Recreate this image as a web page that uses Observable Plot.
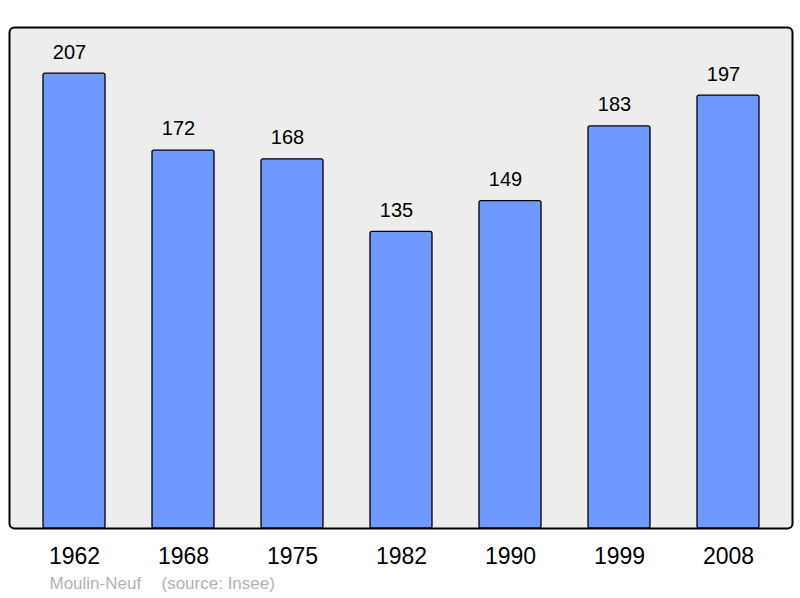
<!DOCTYPE html>
<html><head><meta charset="utf-8">
<script src="https://cdn.jsdelivr.net/npm/d3@7"></script>
<script src="https://cdn.jsdelivr.net/npm/@observablehq/plot@0.6"></script>
<style>body{margin:0;background:#fff;font-family:"Liberation Sans",Arial,sans-serif}</style>
</head><body><div id="chart"></div>
<script>
const years = ["1962","1968","1975","1982","1990","1999","2008"];
const population = [207,172,168,135,149,183,197];
const captionName = "Moulin-Neuf";
const captionSource = "(source: Insee)";
const data = years.map((y,i)=>({year:y, pop:population[i]}));

const chart = Plot.plot({
  width: 800, height: 598,
  marginLeft: 9, marginRight: 8, marginTop: 27, marginBottom: 70,
  style: {fontFamily: "Liberation Sans, Arial, sans-serif", background: "#fff"},
  x: {domain: years, insetLeft: 9.3, insetRight: 8.3, paddingInner: 0.43, paddingOuter: 0.215, label: null},
  y: {domain: [0, 228], axis: null},
  marks: [
    Plot.frame({fill: "#ededed", stroke: "#000", strokeWidth: 2, rx: 5}),
    Plot.barY(data, {x: "year", y: "pop", fill: "#7099ff", stroke: "#000", strokeWidth: 1.3, rx: 2}),
    Plot.text(data, {x: "year", y: "pop", text: d => String(d.pop), dx: -5, dy: -21.5, fontSize: 20, fill: "#000"}),
    Plot.axisX({tickSize: 0, tickPadding: 19, fontSize: 23, fill: "#000", label: null}),
    Plot.text([captionName], {frameAnchor: "bottom-left", dx: 40, dy: 60, textAnchor: "start", fontSize: 17, fill: "#b3b3b3"}),
    Plot.text([captionSource], {frameAnchor: "bottom-left", dx: 152, dy: 60, textAnchor: "start", fontSize: 17, fill: "#b3b3b3"})
  ]
});
document.getElementById("chart").appendChild(chart);
</script></body></html>
